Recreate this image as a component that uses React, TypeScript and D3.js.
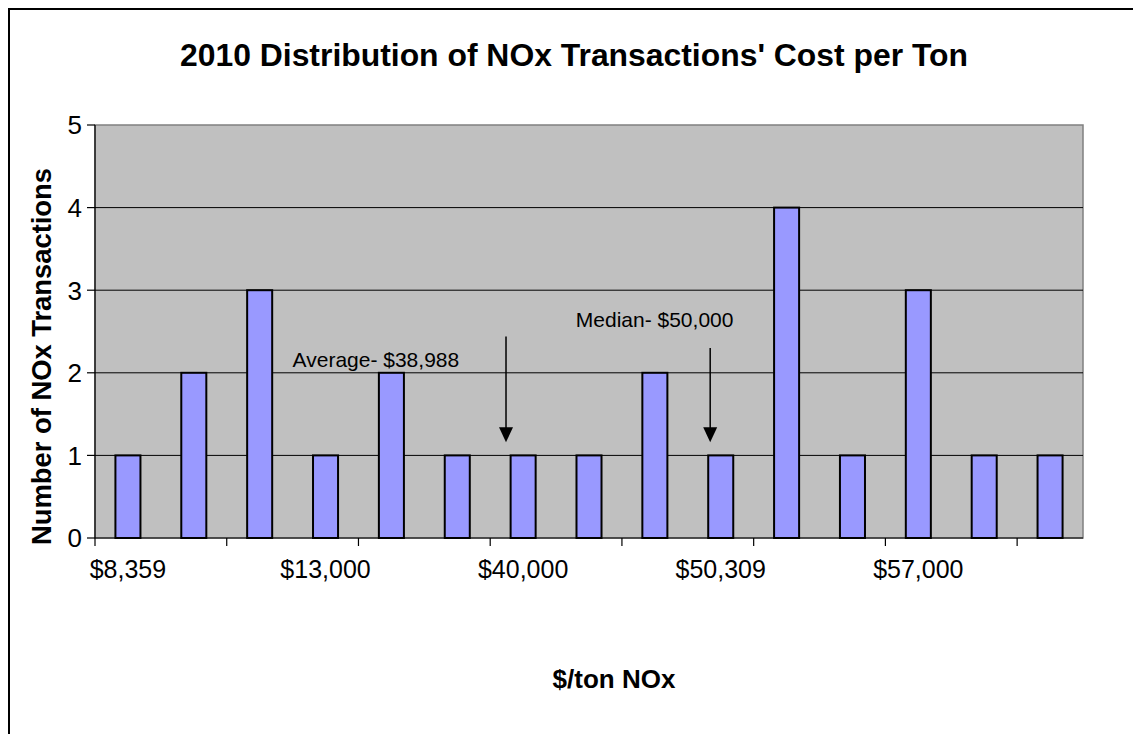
import React, {useEffect, useRef} from 'react';
import * as d3 from 'd3';

// price bins (only every third one is labelled in the original)
const categories = ["$8,359", "", "", "$13,000", "", "", "$40,000", "", "", "$50,309", "", "", "$57,000", "", ""];
const counts = [1, 2, 3, 1, 2, 1, 1, 1, 2, 1, 4, 1, 3, 1, 1];
const yTicks = [0, 1, 2, 3, 4, 5];

// annotations, positions in category-index / count units
const noteText = ["Average- $38,988", "Median- $50,000"];
const noteTextAt = [[3.0, 2.07], [7.3, 2.56]];
const noteArrowX = [6.24, 9.34];
const noteArrowTop = [2.44, 2.30];
const noteArrowTip = [1.16, 1.16];

export default function App() {
    const ref = useRef<SVGSVGElement>(null);

    useEffect(() => {
        document.body.style.margin = '0';
        const svg = d3.select(ref.current);
        svg.selectAll('*').remove();

        const W = 1133, H = 734;
        const margin = {top: 125, right: 50, bottom: 196, left: 95};
        const width = W - margin.left - margin.right;
        const height = H - margin.top - margin.bottom;
        const font = 'Liberation Sans, Arial, sans-serif';

        // outer chart frame
        svg.append('rect')
            .attr('x', 9).attr('y', 9).attr('width', 1300).attr('height', 900)
            .attr('fill', 'white').attr('stroke', 'black').attr('stroke-width', 2);

        const idx = counts.map((d, i) => i);
        const x = d3.scaleBand<number>().domain(idx).range([0, width]).padding(0);
        const xi = d3.scaleLinear().domain([0, counts.length]).range([0, width]);
        const y = d3.scaleLinear().domain([0, 5]).range([height, 0]);

        const g = svg.append('g').attr('transform', 'translate(' + margin.left + ',' + margin.top + ')');

        g.append('rect')
            .attr('width', width).attr('height', height)
            .attr('fill', '#c0c0c0').attr('stroke', '#808080').attr('stroke-width', 1.5);

        // gridlines
        g.selectAll('.grid').data(yTicks.filter(t => t > 0 && t < 5)).enter().append('line')
            .attr('x1', 0).attr('x2', width)
            .attr('y1', d => y(d)).attr('y2', d => y(d))
            .attr('stroke', 'black').attr('stroke-width', 1);

        // bars
        const bw = x.bandwidth() * 0.38;
        g.selectAll('.bar').data(counts).enter().append('rect')
            .attr('x', (d, i) => x(i)! + x.bandwidth() / 2 - bw / 2)
            .attr('y', d => y(d))
            .attr('width', bw)
            .attr('height', d => height - y(d))
            .attr('fill', '#9999ff').attr('stroke', 'black').attr('stroke-width', 2);

        // y axis
        g.append('line').attr('x1', 0).attr('x2', 0).attr('y1', 0).attr('y2', height)
            .attr('stroke', 'black').attr('stroke-width', 1.2);
        g.selectAll('.ytick').data(yTicks).enter().append('line')
            .attr('x1', -8).attr('x2', 0)
            .attr('y1', d => y(d)).attr('y2', d => y(d))
            .attr('stroke', 'black').attr('stroke-width', 1.2);
        g.selectAll('.ylab').data(yTicks).enter().append('text')
            .attr('x', -13).attr('y', d => y(d)).attr('dy', '0.36em')
            .attr('text-anchor', 'end')
            .style('font-family', font).style('font-size', '26px')
            .text(d => d);

        // x axis
        g.append('line').attr('x1', 0).attr('x2', width).attr('y1', height).attr('y2', height)
            .attr('stroke', 'black').attr('stroke-width', 1.2);
        g.selectAll('.xtick').data(idx.filter(i => i % 2 === 0)).enter().append('line')
            .attr('x1', d => x(d)!).attr('x2', d => x(d)!)
            .attr('y1', height).attr('y2', height + 8)
            .attr('stroke', 'black').attr('stroke-width', 1.2);
        g.selectAll('.xlab').data(idx.filter(i => categories[i] !== '')).enter().append('text')
            .attr('x', d => x(d)! + x.bandwidth() / 2).attr('y', height + 40)
            .attr('text-anchor', 'middle')
            .style('font-family', font).style('font-size', '25px')
            .text(d => categories[d]);

        // annotations
        noteText.forEach((t, i) => {
            g.append('text')
                .attr('x', xi(noteTextAt[i][0])).attr('y', y(noteTextAt[i][1]))
                .style('font-family', font).style('font-size', '21px')
                .text(t);
            const ax = xi(noteArrowX[i]);
            const tip = y(noteArrowTip[i]);
            g.append('line').attr('x1', ax).attr('x2', ax)
                .attr('y1', y(noteArrowTop[i])).attr('y2', tip - 10)
                .attr('stroke', 'black').attr('stroke-width', 1.5);
            g.append('path')
                .attr('d', 'M' + (ax - 7) + ',' + (tip - 15) + 'L' + (ax + 7) + ',' + (tip - 15) + 'L' + ax + ',' + tip + 'Z')
                .attr('fill', 'black');
        });

        // titles
        svg.append('text')
            .attr('x', 574).attr('y', 66).attr('text-anchor', 'middle')
            .attr('textLength', 788).attr('lengthAdjust', 'spacingAndGlyphs')
            .style('font-family', font).style('font-size', '31px').style('font-weight', 'bold')
            .text("2010 Distribution of NOx Transactions' Cost per Ton");

        svg.append('text')
            .attr('x', margin.left + width / 2 + 25).attr('y', 688).attr('text-anchor', 'middle')
            .style('font-family', font).style('font-size', '26px').style('font-weight', 'bold')
            .text('$/ton NOx');

        svg.append('text')
            .attr('transform', 'translate(51,' + (margin.top + height / 2 + 25) + ') rotate(-90)')
            .attr('text-anchor', 'middle')
            .attr('textLength', 377).attr('lengthAdjust', 'spacingAndGlyphs')
            .style('font-family', font).style('font-size', '27px').style('font-weight', 'bold')
            .text('Number of NOx Transactions');
    }, []);

    return (<svg ref={ref} width={1133} height={734} style={{display: 'block'}}></svg>);
}
